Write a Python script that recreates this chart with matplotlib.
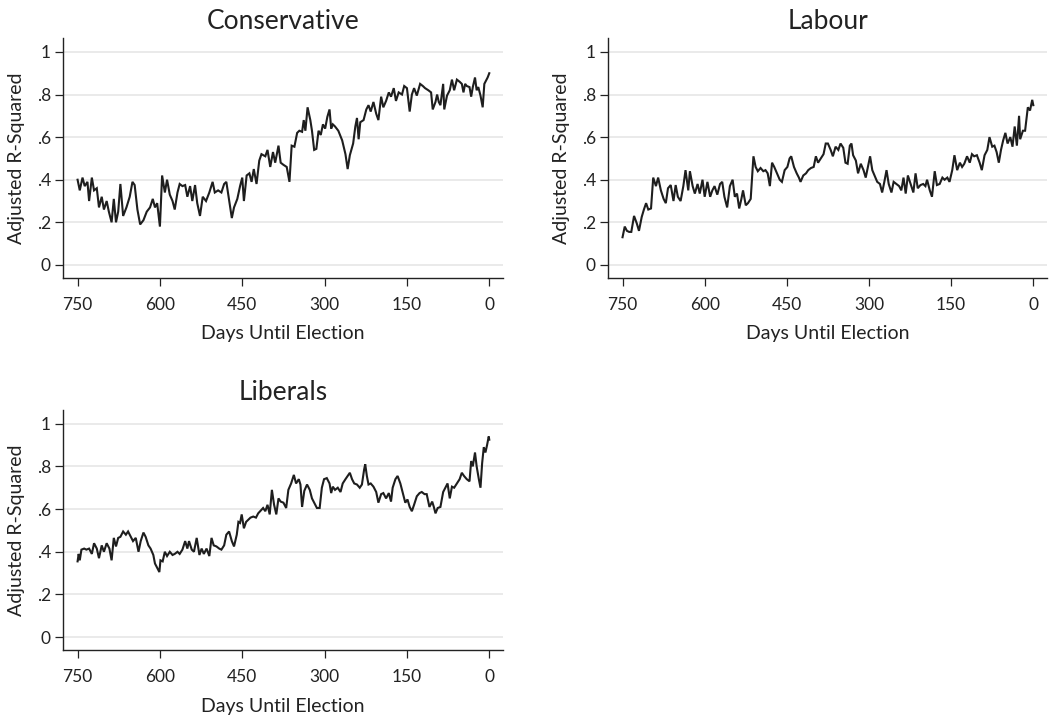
"""Adjusted R-squared by days until election, one panel per party."""

import matplotlib
matplotlib.use("Agg")
import matplotlib.pyplot as plt

plt.rcParams["font.family"] = ["Lato", "DejaVu Sans"]

# ---- data ------------------------------------------------------------------
con_days = [750, 746, 741, 737, 732, 729, 724, 720, 715, 711, 706, 702, 697, 693, 688, 684, 680, 676, 672, 667,
            661, 655, 650, 646, 641, 636, 630, 624, 618, 613, 609, 605, 600, 596, 591, 587, 582, 577, 573, 568,
            564, 559, 554, 550, 545, 541, 536, 532, 527, 522, 516, 510, 504, 500, 494, 488, 483, 479, 473, 469,
            465, 459, 454, 450, 447, 442, 437, 433, 429, 424, 419, 415,
            408, 404, 399, 394, 390, 384, 380, 375, 369, 364, 360, 355, 350, 346, 341, 338, 335, 331, 326, 323,
            319, 315, 311, 307, 303, 299, 295, 291, 288, 285, 281, 275, 268, 262, 258, 254, 248, 244, 241, 238,
            235, 229, 224, 220, 216, 211, 206, 202, 197, 193, 188, 183, 179, 174, 170, 165, 159, 155, 150, 145,
            141, 137, 132, 126, 121, 117, 111, 106, 103, 98, 95, 92, 89, 84, 82, 77, 72, 68, 64, 59,
            54, 50, 47, 44, 41, 36, 33, 30, 26, 23, 20, 16, 12, 9, 5, 3, 0]
con_r2 = [.40, .35, .41, .37, .39, .30, .41, .35, .36, .27, .32, .26, .30, .25, .20, .31, .20, .25, .38, .23,
          .27, .32, .39, .375, .26, .19, .21, .25, .27, .31, .27, .29, .18, .42, .34, .40, .33, .30, .26, .34,
          .38, .37, .375, .32, .37, .30, .375, .29, .23, .32, .30, .34, .39, .34, .35, .34, .38, .39, .29, .22,
          .27, .31, .37, .41, .30, .42, .43, .39, .45, .38, .49, .52,
          .51, .54, .46, .53, .48, .56, .48, .47, .46, .39, .56, .555, .62, .63, .625, .68, .63, .74, .68, .63,
          .54, .545, .63, .61, .66, .64, .695, .73, .64, .66, .65, .63, .585, .52, .45, .515, .57, .65, .69, .59,
          .67, .68, .73, .75, .72, .765, .71, .68, .79, .74, .77, .81, .79, .83, .77, .81, .80, .84, .83, .72,
          .80, .83, .795, .85, .84, .83, .82, .81, .73, .765, .80, .765, .75, .85, .73, .795, .82, .87, .82, .87,
          .86, .85, .81, .85, .84, .835, .79, .835, .88, .82, .835, .795, .74, .85, .87, .88, .90]

lab_days = [750, 746, 742, 738, 734, 729, 724, 720, 715, 711, 707, 703, 698, 694, 689, 685, 680, 675, 671, 667,
            662, 657, 653, 649, 644, 639, 635, 630, 627, 622, 618, 613, 609, 604, 600, 595, 590, 586, 582, 577,
            572, 568, 564, 559, 554, 549, 545, 541, 537, 533, 530, 525, 521, 516, 511, 507, 503, 498, 493, 489,
            485, 481, 477, 473, 468, 463, 459, 454, 449, 445,
            442, 437, 432, 428, 425, 420, 415, 411, 406, 401, 397, 393, 388, 383, 379, 375, 370, 366, 361, 356,
            352, 347, 343, 339, 335, 332, 329, 324, 320, 315, 310, 306, 302, 298, 294, 290, 285, 280, 276, 272,
            268, 264, 259, 255, 250, 245, 241, 237, 233, 229, 224, 219, 215, 211, 206, 201, 197, 194, 189, 185,
            180, 176, 171, 166, 162, 157, 153, 148, 144, 139, 134, 130, 126, 121, 116, 112, 108, 103, 98, 94,
            89, 84, 80, 75, 71, 67, 63, 59, 55, 51, 47, 42, 38, 34, 30, 26, 24, 19, 15, 10, 6, 4, 2, 0]
lab_r2 = [.13, .18, .16, .155, .155, .23, .195, .16, .225, .26, .29, .26, .265, .41, .37, .41, .35, .31, .29, .36,
          .375, .30, .375, .32, .30, .37, .445, .35, .44, .37, .335, .38, .335, .40, .32, .39, .32, .35, .37, .33,
          .38, .39, .32, .27, .37, .40, .32, .335, .265, .31, .35, .28, .29, .31, .51, .46, .44, .455, .44, .445,
          .43, .37, .48, .46, .43, .40, .39, .445, .46, .50,
          .51, .46, .43, .41, .39, .42, .43, .445, .455, .46, .51, .48, .50, .52, .57, .57, .54, .51, .555, .54,
          .57, .55, .48, .475, .56, .57, .515, .49, .43, .475, .445, .41, .46, .51, .445, .42, .39, .38, .34, .39,
          .445, .38, .34, .39, .38, .37, .35, .41, .335, .42, .38, .34, .43, .36, .375, .38, .37, .40, .35, .32,
          .44, .375, .38, .41, .40, .41, .39, .445, .515, .445, .48, .46, .475, .51, .48, .52, .51, .515, .48, .445,
          .515, .54, .60, .555, .56, .53, .48, .54, .585, .62, .57, .60, .555, .65, .56, .70, .59, .63, .63, .74,
          .725, .75, .775, .75]

lib_days = [750, 748, 746, 743, 738, 734, 729, 724, 720, 715, 711, 706, 702, 697, 692, 688, 684, 680, 676, 672,
            667, 662, 658, 653, 649, 644, 639, 635, 630, 626, 621, 617, 612, 609, 606, 601, 599, 595, 591, 587,
            582, 577, 573, 568, 564, 559, 554, 550, 547, 542, 538, 533, 528, 524, 520, 515, 510, 506, 502, 497,
            492, 488, 483, 479, 474, 469, 465, 460, 457, 454, 451, 447, 443, 439, 435, 430, 425, 421,
            412, 408, 404, 400, 396, 392, 388, 384, 380, 375, 370, 366, 361, 356, 352, 347, 344, 341, 337, 332,
            327, 323, 319, 314, 309, 305, 301, 296, 291, 288, 285, 281, 276, 271, 267, 262, 258, 254, 250, 246,
            241, 236, 232, 228, 226, 223, 220, 216, 211, 206, 202, 197, 193, 188, 183, 179, 176, 171, 167, 162,
            157, 153, 149, 145, 141, 137, 132, 127, 123, 118, 114, 109, 104, 101, 98, 94, 89, 84, 80, 76,
            72, 68, 64, 59, 54, 50, 46, 41, 36, 33, 30, 26, 23, 19, 16, 13, 10, 7, 4, 1, 0]
lib_r2 = [.355, .39, .36, .41, .415, .41, .415, .39, .44, .415, .37, .43, .40, .44, .415, .36, .465, .425, .465, .47,
          .495, .48, .495, .47, .45, .465, .40, .45, .49, .47, .43, .415, .385, .345, .33, .305, .36, .355, .40, .38,
          .40, .385, .39, .40, .39, .41, .45, .415, .45, .41, .40, .465, .385, .415, .39, .415, .38, .465, .43, .425,
          .415, .41, .43, .48, .495, .45, .425, .48, .54, .535, .575, .51, .54, .55, .56, .565, .56, .58,
          .605, .59, .62, .575, .69, .62, .575, .65, .635, .63, .605, .69, .72, .76, .72, .74, .715, .61, .685, .715,
          .69, .65, .63, .605, .605, .70, .74, .745, .72, .675, .705, .69, .70, .68, .72, .74, .755, .77, .74, .72,
          .715, .70, .715, .785, .81, .755, .715, .72, .705, .68, .63, .67, .675, .65, .675, .635, .70, .74, .755, .72,
          .67, .63, .645, .61, .59, .62, .66, .675, .68, .67, .67, .61, .635, .61, .58, .605, .61, .68, .70, .72,
          .65, .705, .70, .72, .74, .77, .755, .74, .73, .825, .80, .865, .80, .74, .70, .815, .89, .865, .90, .94,
          .925]

x_ticks = [750, 600, 450, 300, 150, 0]
y_ticks = [0, .2, .4, .6, .8, 1]
y_tick_labels = ["0", ".2", ".4", ".6", ".8", "1"]

W, H = 1049, 719
LINE = "#1e1e1e"
GRID = "#e6e6e6"
TEXT = "#222222"


def draw_panel(fig, rect, days, r2, title):
    """One Stata-style panel; rect given in pixels (left, top, right, bottom)."""
    left, top, right, bottom = rect
    ax = fig.add_axes([left / W, 1 - bottom / H, (right - left) / W, (bottom - top) / H])
    ax.plot(days, r2, color=LINE, lw=1.5, solid_joinstyle="miter")
    ax.set_xlim(776, -25)
    ax.set_ylim(-0.06, 1.064)
    ax.set_xticks(x_ticks)
    ax.set_xticklabels([str(t) for t in x_ticks])
    ax.set_yticks(y_ticks)
    ax.set_yticklabels(y_tick_labels)
    for y in y_ticks:
        ax.axhline(y, color=GRID, lw=1.2, zorder=0)
    for side in ("top", "right"):
        ax.spines[side].set_visible(False)
    for side in ("left", "bottom"):
        ax.spines[side].set_linewidth(1.0)
        ax.spines[side].set_color(TEXT)
    ax.tick_params(axis="both", length=6, width=0.9, color=TEXT, labelsize=12.5, labelcolor=TEXT)
    ax.tick_params(axis="y", pad=3)
    ax.tick_params(axis="x", pad=8)
    ax.set_xlabel("Days Until Election", fontsize=14, color=TEXT)
    ax.set_ylabel("Adjusted R-Squared", fontsize=14, color=TEXT)
    ax.yaxis.set_label_coords(-0.088, 0.5)
    ax.xaxis.set_label_coords(0.5, -0.198)
    ax.set_title(title, fontsize=19, color=TEXT, pad=7)
    return ax


fig = plt.figure(figsize=(W / 100, H / 100), dpi=100)
draw_panel(fig, (63.3, 38.3, 503, 277.7), con_days, con_r2, "Conservative")
draw_panel(fig, (608.3, 38.3, 1047, 277.7), lab_days, lab_r2, "Labour")
draw_panel(fig, (63.3, 410, 503, 650), lib_days, lib_r2, "Liberals")
fig.savefig("out.png", dpi=100)
